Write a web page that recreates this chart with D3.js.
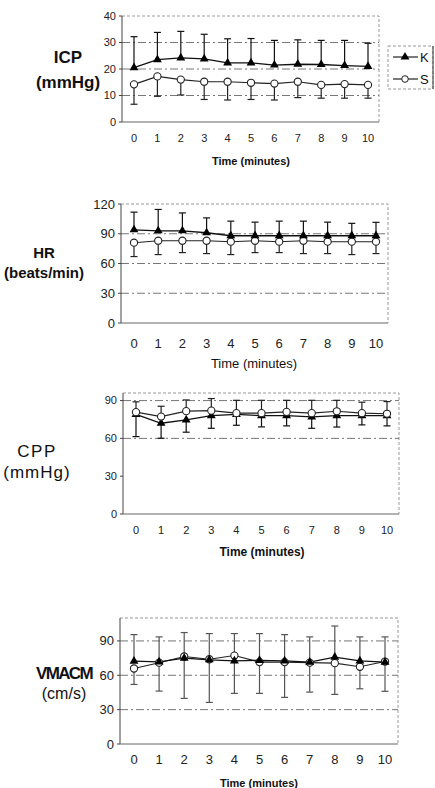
<!DOCTYPE html>
<html><head><meta charset="utf-8">
<script src="https://cdn.jsdelivr.net/npm/d3@7"></script>
<style>body{margin:0;background:#fff}svg{display:block}</style>
</head><body>
<script>
const minutes = [0,1,2,3,4,5,6,7,8,9,10];
const legendLabels = ["K","S"];

// ICP (mmHg)
const icpK = [20.5,23.5,24.2,23.8,22.3,22.3,21.5,21.8,21.7,21.3,21.0];
const icpKUpper = [32.2,33.8,34.2,33.1,31.4,31.5,30.8,31.0,30.8,30.8,29.7];
const icpS = [14.2,17.2,16.0,15.2,15.2,14.8,14.5,15.2,14.0,14.3,14.0];
const icpSLower = [6.7,9.7,10.2,8.5,8.3,8.5,8.3,9.2,9.0,9.0,9.0];
const icpTicks = [0,10,20,30,40];

// HR (beats/min)
const hrK = [94,93,93,91,88,88,88,88,88,88,88];
const hrKUpper = [111.8,114.5,111,106,102.7,101.7,102.7,102.7,101.7,100.5,101.5];
const hrS = [81,83,83,83,82,83,82,83,82,82,82];
const hrSLower = [67,69,71,70,69,71,71,70,70,69,70];
const hrTicks = [0,30,60,90,120];

// CPP (mmHg)
const cppK = [79,72,74.7,78,79,78,78,77,78,78,78];
const cppKLower = [61.4,60.1,64.9,68,70.4,69.1,69.9,68,69,70.7,69.9];
const cppS = [80.8,77.3,81.6,82,80,80,81,80,81.5,80,79.5];
const cppSUpper = [89,85.5,90.5,91.6,90.2,90.2,90.2,90.2,90.2,88.7,89.2];
const cppTicks = [0,30,60,90];

// VMACM (cm/s)
const vK = [72.3,71.7,74.9,73.5,72.6,73,72.5,71.5,75.8,72.5,71.5];
const vKUpper = [95.5,93.5,97.3,96.4,96.4,96.4,95.5,93.5,103,93.5,93.5];
const vS = [65.9,71,76.4,74,77.2,71.5,71.5,71,70.6,67.4,72];
const vSLower = [52,46.2,39.8,36.3,44.2,44.2,40.7,45.3,43.3,48.2,46];
const vTicks = [0,30,60,90];

const W=435,H=788;
const svg=d3.select("body").append("svg").attr("width",W).attr("height",H)
  .style("font-family","'Liberation Sans', Arial, sans-serif");

function panel(o){
  const g=svg.append("g");
  const x=d3.scaleLinear().domain([0,10]).range(o.xr);
  const y=d3.scaleLinear().domain(o.yd).range([o.bottom,o.top]);
  g.append("path").attr("d",`M${o.left},${o.top}H${o.right}V${o.bottom}`)
    .attr("fill","none").attr("stroke","#999").attr("stroke-width",1).attr("stroke-dasharray","3,2");
  g.selectAll("line.grid").data(o.grid).join("line")
    .attr("x1",o.left).attr("x2",o.right).attr("y1",d=>y(d)).attr("y2",d=>y(d))
    .attr("stroke","#777").attr("stroke-width",1).attr("stroke-dasharray","8,3,2,3");
  g.append("line").attr("x1",o.left).attr("x2",o.left).attr("y1",o.top).attr("y2",o.bottom)
    .attr("stroke","#444").attr("stroke-width",1);
  g.append("line").attr("x1",o.left).attr("x2",o.right).attr("y1",o.bottom).attr("y2",o.bottom)
    .attr("stroke","#666").attr("stroke-width",1);
  g.selectAll("text.yt").data(o.ticks).join("text")
    .attr("x",o.left-6).attr("y",d=>y(d)).attr("dy","0.35em").attr("text-anchor","end")
    .attr("font-size",o.tickFs).attr("fill","#222").text(d=>d);
  g.selectAll("line.ytk").data(o.ticks).join("line")
    .attr("x1",o.left-3).attr("x2",o.left).attr("y1",d=>y(d)).attr("y2",d=>y(d)).attr("stroke","#444");
  g.selectAll("text.xt").data(minutes).join("text")
    .attr("x",d=>x(d)).attr("y",o.xLabY).attr("dy","0.35em").attr("text-anchor","middle")
    .attr("font-size",o.tickFs).attr("fill","#222").text(d=>d);
  g.append("text").attr("x",o.titleX).attr("y",o.titleY).attr("dy","0.35em").attr("text-anchor","middle")
    .attr("font-size",o.titleFs).attr("font-weight",o.titleW).attr("fill","#111").text("Time (minutes)");
  o.ylab.forEach((t,i)=>{
    g.append("text").attr("x",o.ylabX).attr("y",o.ylabY[i]).attr("dy","0.35em").attr("text-anchor","middle")
      .attr("font-size",o.ylabFs[i]).attr("font-weight",o.ylabW[i]).attr("letter-spacing",(o.ylabLs||[0,0])[i])
      .attr("fill","#111").text(t);
  });
  const cap=3.5;
  o.errs.forEach(e=>{
    minutes.forEach((m,i)=>{
      const cx=x(m);
      g.append("line").attr("x1",cx).attr("x2",cx).attr("y1",y(e.mean[i])).attr("y2",y(e.end[i]))
        .attr("stroke",e.color).attr("stroke-width",1.2);
      g.append("line").attr("x1",cx-cap).attr("x2",cx+cap).attr("y1",y(e.end[i])).attr("y2",y(e.end[i]))
        .attr("stroke",e.color).attr("stroke-width",1.2);
    });
  });
  const line=d3.line().x((d,i)=>x(minutes[i])).y(d=>y(d));
  g.append("path").attr("d",line(o.S)).attr("fill","none").attr("stroke","#222").attr("stroke-width",1.1);
  g.append("path").attr("d",line(o.K)).attr("fill","none").attr("stroke","#111").attr("stroke-width",1.3);
  const tri=d3.symbol().type(d3.symbolTriangle).size(34);
  const drawS=()=>g.selectAll("circle.s").data(o.S).join("circle")
    .attr("cx",(d,i)=>x(minutes[i])).attr("cy",d=>y(d)).attr("r",3.6)
    .attr("fill","#fff").attr("stroke","#222").attr("stroke-width",1.1);
  const drawK=()=>g.selectAll("path.k").data(o.K).join("path")
    .attr("d",tri).attr("transform",(d,i)=>`translate(${x(minutes[i])},${y(d)})`).attr("fill","#000");
  if(o.kOnTop){drawS();drawK();}else{drawK();drawS();}
  return g;
}

panel({left:122,right:379,top:16,bottom:122,xr:[134,368],yd:[0,40],ticks:icpTicks,grid:[10,20,30],
  tickFs:11,xLabY:138,titleX:251,titleY:161,titleFs:11,titleW:"bold",
  ylab:["ICP","(mmHg)"],ylabX:68,ylabY:[57,82],ylabFs:[17,17],ylabW:["bold","bold"],
  K:icpK,S:icpS,errs:[{mean:icpK,end:icpKUpper,color:"#111"},{mean:icpS,end:icpSLower,color:"#222"}],kOnTop:true});

(function(){
  const g=svg.append("g");
  g.append("rect").attr("x",388).attr("y",46).attr("width",45).attr("height",43)
    .attr("fill","#fff").attr("stroke","#999").attr("stroke-dasharray","3,2");
  g.append("line").attr("x1",433).attr("x2",433).attr("y1",46).attr("y2",89).attr("stroke","#333");
  const rows=[{y:57,lab:legendLabels[0]},{y:79,lab:legendLabels[1]}];
  rows.forEach((r,i)=>{
    g.append("line").attr("x1",393).attr("x2",418).attr("y1",r.y).attr("y2",r.y).attr("stroke","#222").attr("stroke-width",1.2);
    if(i===0) g.append("path").attr("d",d3.symbol().type(d3.symbolTriangle).size(34)()).attr("transform",`translate(405,${r.y})`).attr("fill","#000");
    else g.append("circle").attr("cx",405).attr("cy",r.y).attr("r",3.3).attr("fill","#fff").attr("stroke","#222");
    g.append("text").attr("x",420).attr("y",r.y).attr("dy","0.35em").attr("font-size",13).attr("fill","#111").text(r.lab);
  });
})();

panel({left:121,right:388,top:204,bottom:323,xr:[134,376],yd:[0,120],ticks:hrTicks,grid:[30,60,90],
  tickFs:13,xLabY:343,titleX:254,titleY:363,titleFs:13,titleW:"normal",
  ylab:["HR","(beats/min)"],ylabX:44,ylabY:[253,273],ylabFs:[15,15],ylabW:["bold","bold"],
  K:hrK,S:hrS,errs:[{mean:hrK,end:hrKUpper,color:"#111"},{mean:hrS,end:hrSLower,color:"#222"}],kOnTop:true});

panel({left:123,right:399,top:393,bottom:514,xr:[136,387],yd:[0,96],ticks:cppTicks,grid:[60,90],
  tickFs:11,xLabY:530,titleX:262,titleY:552,titleFs:12,titleW:"bold",
  ylab:["CPP","(mmHg)"],ylabX:37,ylabY:[451,472],ylabFs:[17,17],ylabW:["normal","normal"],ylabLs:[1.5,1],
  K:cppK,S:cppS,errs:[{mean:cppK,end:cppKLower,color:"#111"},{mean:cppS,end:cppSUpper,color:"#222"}],kOnTop:false});

panel({left:120,right:398,top:618,bottom:744,xr:[134,385],yd:[0,110],ticks:vTicks,grid:[30,60,90],
  tickFs:13,xLabY:759,titleX:259,titleY:783,titleFs:11,titleW:"bold",
  ylab:["VMACM","(cm/s)"],ylabX:64,ylabY:[673,693],ylabFs:[17,16],ylabW:["bold","normal"],ylabLs:[-1.6,0],
  K:vK,S:vS,errs:[{mean:vK,end:vKUpper,color:"#555"},{mean:vS,end:vSLower,color:"#555"}],kOnTop:true});
</script>
</body></html>
